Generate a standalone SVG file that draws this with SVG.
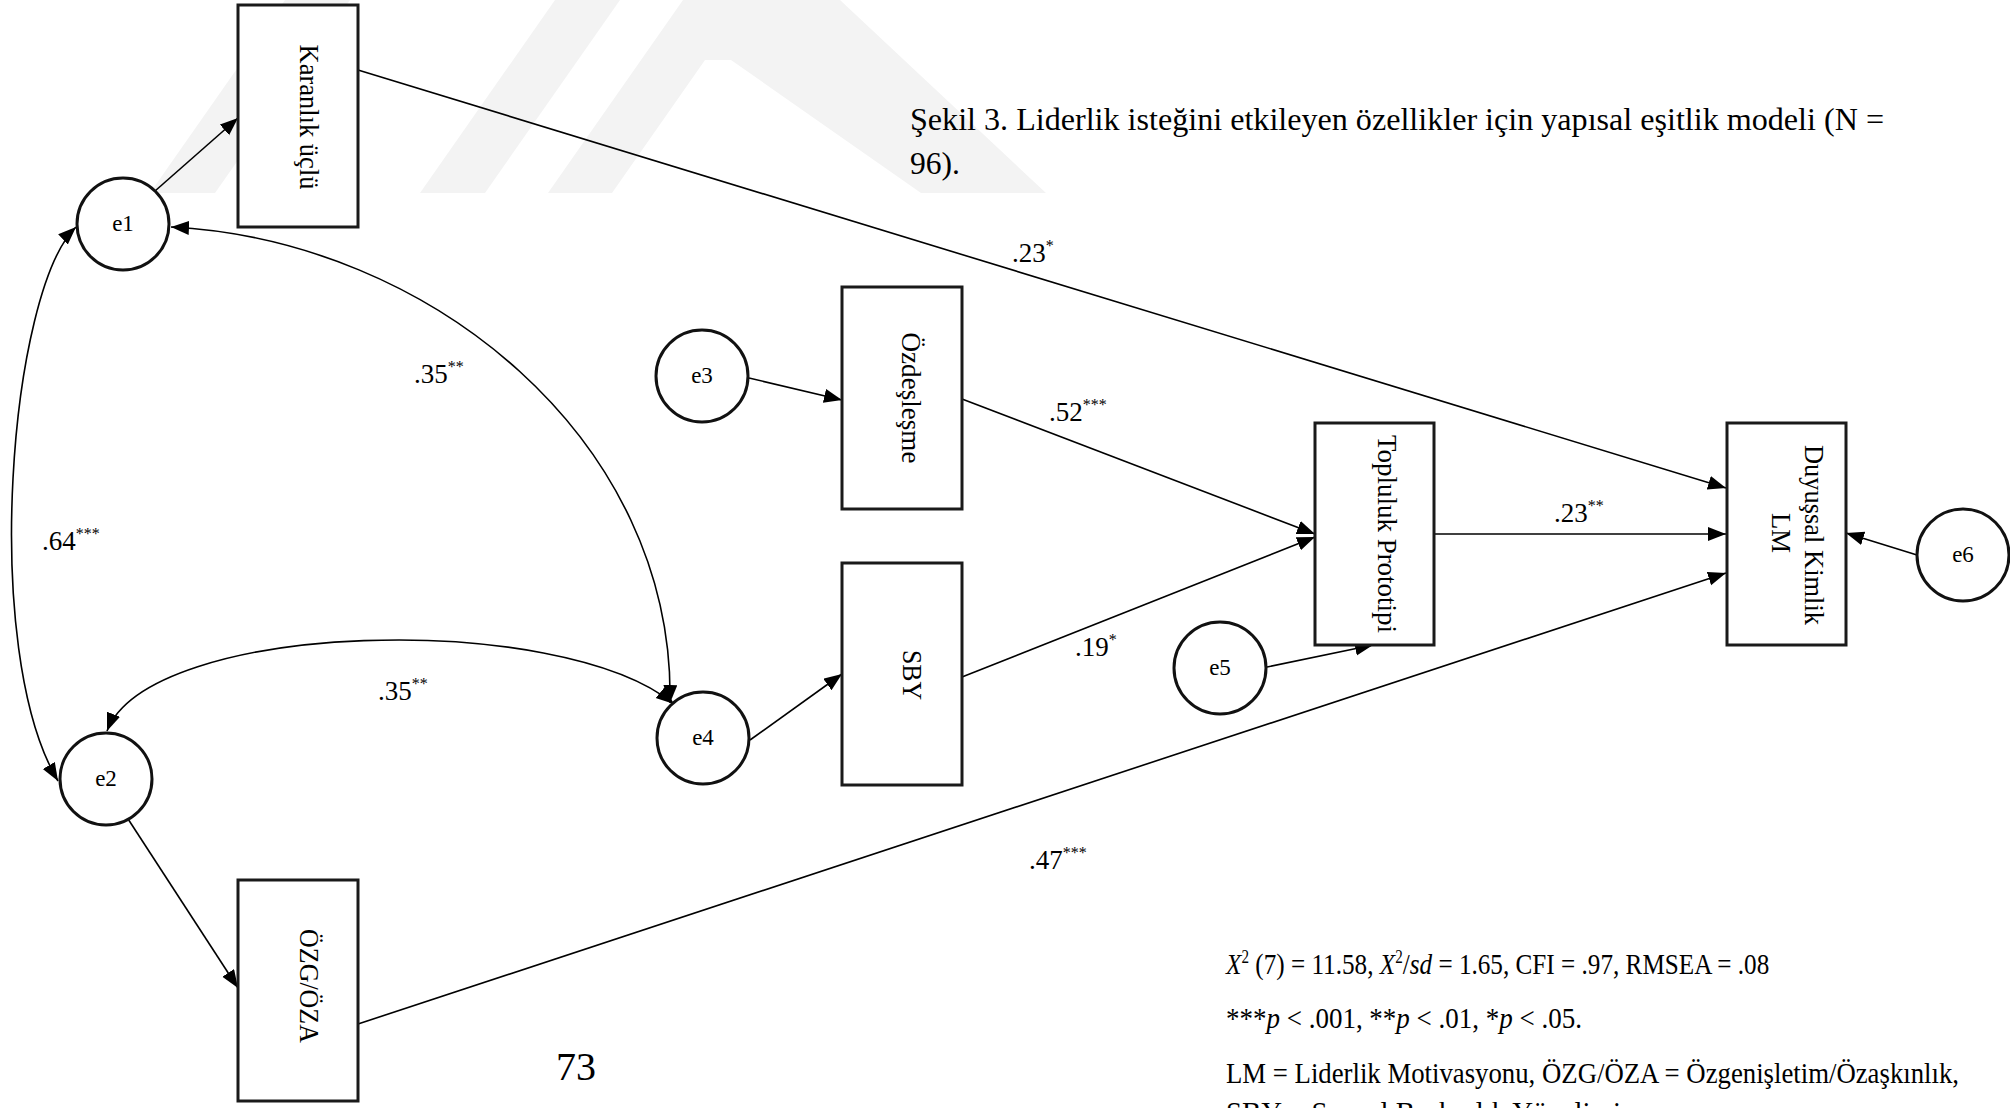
<svg xmlns="http://www.w3.org/2000/svg" width="2010" height="1108" viewBox="0 0 2010 1108">
<style>
text{font-family:"Liberation Serif","Times New Roman",serif;fill:#000}
.box{fill:#fff;stroke:#1a1a1a;stroke-width:3}
.circ{fill:#fff;stroke:#111;stroke-width:3}
.edge{fill:none;stroke:#000;stroke-width:1.6}
.nl{font-size:28px}
.el{font-size:23px;text-anchor:middle}
.lbl{font-size:27px}
.sup{font-size:16px}
.cap{font-size:31px}
.foot{font-size:30px}
.wm{fill:#f3f3f3}
</style>
<defs>
<marker id="ah" markerUnits="userSpaceOnUse" markerWidth="20" markerHeight="16" refX="18" refY="7" orient="auto-start-reverse">
<path d="M0,0 L18,7 L0,14 z" fill="#000"/>
</marker>
</defs>
<rect width="2010" height="1108" fill="#fff"/>
<g id="watermark">
<polygon class="wm" points="150,193 215,193 350,0 285,0"/>
<polygon class="wm" points="420,193 485,193 620,0 555,0"/>
<polygon class="wm" points="548,193 612,193 705,60 731,60 921,193 1046,193 840,0 683,0"/>
</g>
<g id="caption">
<text class="cap" x="910" y="130" textLength="974" lengthAdjust="spacingAndGlyphs">Şekil 3. Liderlik isteğini etkileyen özellikler için yapısal eşitlik modeli (N =</text>
<text class="cap" x="910" y="174" textLength="50" lengthAdjust="spacingAndGlyphs">96).</text>
</g>
<g id="connectors">
<line class="edge" x1="155" y1="191" x2="238" y2="118" marker-end="url(#ah)"/>
<line class="edge" x1="117" y1="802" x2="238" y2="988" marker-end="url(#ah)"/>
<path class="edge" d="M76,227 C10,290 -20,650 58,781" marker-start="url(#ah)" marker-end="url(#ah)"/>
<path class="edge" d="M171,227 C430,240 675,440 670,703" marker-start="url(#ah)" marker-end="url(#ah)"/>
<path class="edge" d="M107,731 C150,620 560,610 674,704" marker-start="url(#ah)" marker-end="url(#ah)"/>
<line class="edge" x1="749" y1="378" x2="842" y2="400" marker-end="url(#ah)"/>
<line class="edge" x1="750" y1="740" x2="842" y2="674" marker-end="url(#ah)"/>
<line class="edge" x1="962" y1="399" x2="1315" y2="534" marker-end="url(#ah)"/>
<line class="edge" x1="962" y1="677" x2="1315" y2="537" marker-end="url(#ah)"/>
<line class="edge" x1="1267" y1="667" x2="1373" y2="645" marker-end="url(#ah)"/>
<line class="edge" x1="358" y1="70" x2="1726" y2="488" marker-end="url(#ah)"/>
<line class="edge" x1="1434" y1="534" x2="1726" y2="534" marker-end="url(#ah)"/>
<line class="edge" x1="358" y1="1024" x2="1726" y2="573" marker-end="url(#ah)"/>
<line class="edge" x1="1917" y1="555" x2="1846" y2="533" marker-end="url(#ah)"/>
</g>
<g id="labels">
<text class="lbl" x="1012" y="262">.23<tspan class="sup" dy="-11">*</tspan></text>
<text class="lbl" x="414" y="383">.35<tspan class="sup" dy="-11">**</tspan></text>
<text class="lbl" x="42" y="550">.64<tspan class="sup" dy="-11">***</tspan></text>
<text class="lbl" x="378" y="700">.35<tspan class="sup" dy="-11">**</tspan></text>
<text class="lbl" x="1049" y="421">.52<tspan class="sup" dy="-11">***</tspan></text>
<text class="lbl" x="1075" y="656">.19<tspan class="sup" dy="-11">*</tspan></text>
<text class="lbl" x="1554" y="522">.23<tspan class="sup" dy="-11">**</tspan></text>
<text class="lbl" x="1029" y="869">.47<tspan class="sup" dy="-11">***</tspan></text>
</g>
<g id="karanlik">
<rect class="box" x="238" y="5" width="120" height="222"/>
<text class="nl" transform="translate(300,117) rotate(90)" text-anchor="middle" textLength="145" lengthAdjust="spacingAndGlyphs">Karanlık üçlü</text>
</g>
<g id="ozg">
<rect class="box" x="238" y="880" width="120" height="221"/>
<text class="nl" transform="translate(300,986) rotate(90)" text-anchor="middle" textLength="114" lengthAdjust="spacingAndGlyphs">ÖZG/ÖZA</text>
</g>
<g id="ozdeslesme">
<rect class="box" x="842" y="287" width="120" height="222"/>
<text class="nl" transform="translate(902,398) rotate(90)" text-anchor="middle" textLength="131" lengthAdjust="spacingAndGlyphs">Özdeşleşme</text>
</g>
<g id="sby">
<rect class="box" x="842" y="563" width="120" height="222"/>
<text class="nl" transform="translate(903,675) rotate(90)" text-anchor="middle" textLength="50" lengthAdjust="spacingAndGlyphs">SBY</text>
</g>
<g id="topluluk">
<rect class="box" x="1315" y="423" width="119" height="222"/>
<text class="nl" transform="translate(1378,534) rotate(90)" text-anchor="middle" textLength="198" lengthAdjust="spacingAndGlyphs">Topluluk Prototipi</text>
</g>
<g id="duyussal">
<rect class="box" x="1727" y="423" width="119" height="222"/>
<text class="nl" transform="translate(1805,535) rotate(90)" text-anchor="middle" textLength="180" lengthAdjust="spacingAndGlyphs">Duyuşsal Kimlik</text>
<text class="nl" transform="translate(1772,533) rotate(90)" text-anchor="middle" textLength="40" lengthAdjust="spacingAndGlyphs">LM</text>
</g>
<g id="e1"><circle class="circ" cx="123" cy="224" r="46"/><text class="el" x="123" y="231">e1</text></g>
<g id="e2"><circle class="circ" cx="106" cy="779" r="46"/><text class="el" x="106" y="786">e2</text></g>
<g id="e3"><circle class="circ" cx="702" cy="376" r="46"/><text class="el" x="702" y="383">e3</text></g>
<g id="e4"><circle class="circ" cx="703" cy="738" r="46"/><text class="el" x="703" y="745">e4</text></g>
<g id="e5"><circle class="circ" cx="1220" cy="668" r="46"/><text class="el" x="1220" y="675">e5</text></g>
<g id="e6"><circle class="circ" cx="1963" cy="555" r="46"/><text class="el" x="1963" y="562">e6</text></g>
<g id="page">
<text x="556" y="1080" font-size="40">73</text>
</g>
<g id="footer">
<text class="foot" transform="translate(1226,974) scale(0.84,1)"><tspan font-style="italic">X</tspan><tspan font-size="18" dy="-11">2</tspan><tspan dy="11"> (7) = 11.58, </tspan><tspan font-style="italic">X</tspan><tspan font-size="18" dy="-11">2</tspan><tspan dy="11">/</tspan><tspan font-style="italic">sd</tspan><tspan> = 1.65, CFI = .97, RMSEA = .08</tspan></text>
<text class="foot" transform="translate(1226,1028) scale(0.9,1)">***<tspan font-style="italic">p</tspan> &lt; .001, **<tspan font-style="italic">p</tspan> &lt; .01, *<tspan font-style="italic">p</tspan> &lt; .05.</text>
<text class="foot" x="1226" y="1083" textLength="733" lengthAdjust="spacingAndGlyphs">LM = Liderlik Motivasyonu, ÖZG/ÖZA = Özgenişletim/Özaşkınlık,</text>
<text class="foot" x="1226" y="1122" textLength="395" lengthAdjust="spacingAndGlyphs">SBY = Sosyal Baskınlık Yönelimi</text>
</g>
</svg>
